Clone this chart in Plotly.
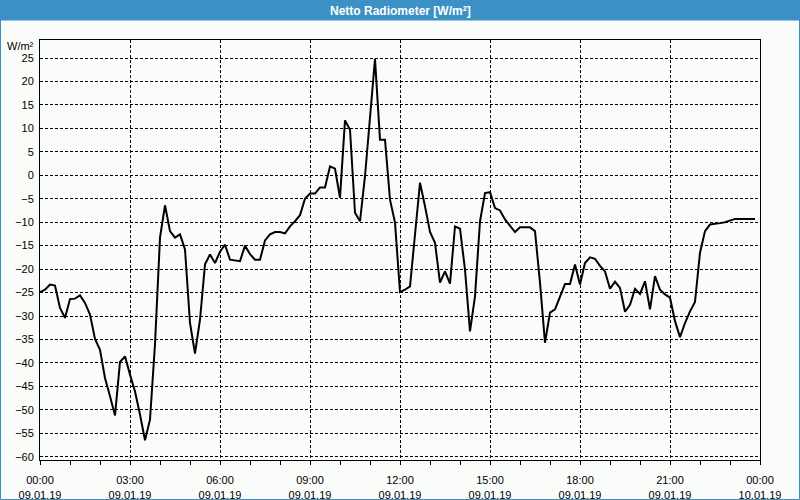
import pandas as pd
import plotly.graph_objects as go

# 10-minute readings, 09.01.19 00:00 .. 23:50
times = pd.date_range("2019-01-09 00:00", periods=144, freq="10min")
values = [
    -24.9, -24.4, -23.3, -23.5, -28.3, -30.4, -26.4, -26.3, -25.6, -27.2,
    -29.7, -34.9, -37.2, -43.2, -47.1, -51.2, -39.8, -38.6, -42.5, -46.1,
    -51.0, -56.5, -52.1, -36.0, -13.3, -6.4, -11.9, -13.3, -12.6, -15.8,
    -31.5, -38.0, -30.8, -19.0, -16.9, -18.7, -16.3, -14.8, -18.0, -18.1,
    -18.3, -15.0, -16.8, -18.0, -18.0, -13.9, -12.6, -12.1, -12.1, -12.4,
    -10.9, -9.8, -8.5, -5.0, -3.9, -3.9, -2.6, -2.6, 1.9, 1.4,
    -4.8, 11.7, 9.7, -8.0, -9.8, -0.2, 12.6, 24.8, 7.6, 7.6,
    -5.2, -10.1, -24.9, -24.4, -23.7, -12.5, -1.6, -6.6, -12.1, -14.4,
    -22.9, -20.5, -23.1, -10.9, -11.4, -20.1, -33.3, -25.8, -9.8, -3.8,
    -3.6, -7.0, -7.5, -9.4, -10.7, -12.1, -11.1, -11.1, -11.1, -11.9,
    -22.9, -35.7, -29.3, -28.6, -25.8, -23.2, -23.2, -19.0, -23.3, -18.7,
    -17.5, -17.8, -19.3, -20.5, -24.2, -22.7, -24.0, -29.1, -27.6, -24.2,
    -25.3, -22.6, -28.6, -21.5, -24.4, -25.4, -26.1, -31.1, -34.5, -31.5,
    -29.0, -27.0, -16.5, -11.9, -10.5, -10.4, -10.2, -10.0, -9.6, -9.3,
    -9.3, -9.3, -9.3, -9.3,
]

x_tickvals = ["2019-01-09 00:00", "2019-01-09 03:00", "2019-01-09 06:00",
              "2019-01-09 09:00", "2019-01-09 12:00", "2019-01-09 15:00",
              "2019-01-09 18:00", "2019-01-09 21:00", "2019-01-10 00:00"]
x_ticktext = ["00:00<br>09.01.19", "03:00<br>09.01.19", "06:00<br>09.01.19",
              "09:00<br>09.01.19", "12:00<br>09.01.19", "15:00<br>09.01.19",
              "18:00<br>09.01.19", "21:00<br>09.01.19", "00:00<br>10.01.19"]
y_tickvals = [-60, -55, -50, -45, -40, -35, -30, -25, -20, -15, -10, -5,
              0, 5, 10, 15, 20, 25]
x_range = ["2019-01-09 00:00", "2019-01-10 00:00"]

title_text = "<b>Netto Radiometer [W/m²]</b>"
unit_text = "W/m²"

BLUE = "#3b90c4"
BG = "#fafcfa"

fig = go.Figure()
fig.add_trace(go.Scatter(x=times, y=values, mode="lines",
                         line=dict(color="black", width=2),
                         showlegend=False, hoverinfo="skip"))
# invisible companion trace on the labelled overlay axis
fig.add_trace(go.Scatter(x=[times[0]], y=[values[0]], xaxis="x2", mode="markers",
                         marker=dict(opacity=0), showlegend=False,
                         hoverinfo="skip"))

L, R, T, B = 40, 40, 40, 40
W, H = 800, 500
pw, ph = W - L - R, H - T - B


def px(xp):
    return (xp - L) / pw


def py(yp):
    return (H - B - yp) / ph


fig.update_layout(
    width=W, height=H,
    margin=dict(l=L, r=R, t=T, b=B, pad=0, autoexpand=False),
    paper_bgcolor=BG, plot_bgcolor=BG,
    font=dict(family="Liberation Sans, Arial, sans-serif", size=11, color="black"),
    # hourly tick marks, box line
    xaxis=dict(
        type="date", range=x_range,
        dtick=3600000, tick0="2019-01-09 00:00",
        ticks="outside", ticklen=4, tickcolor="black", tickwidth=1,
        showticklabels=False, showgrid=False,
        showline=True, linecolor="black", linewidth=1, mirror=True,
        zeroline=False, fixedrange=True,
    ),
    # 3-hourly labels and dashed grid
    xaxis2=dict(
        type="date", range=x_range,
        overlaying="x", side="bottom", anchor="y",
        tickmode="array", tickvals=x_tickvals, ticktext=x_ticktext,
        ticks="outside", ticklen=10, tickcolor="rgba(0,0,0,0)",
        showgrid=True, gridcolor="black", gridwidth=1, griddash="3px,2px",
        showline=False, zeroline=False, fixedrange=True,
    ),
    yaxis=dict(
        range=[-60.7, 28.84],
        tickmode="array", tickvals=y_tickvals,
        ticks="outside", ticklen=3, tickcolor="rgba(0,0,0,0)",
        showgrid=True, gridcolor="black", gridwidth=1, griddash="3px,2px",
        showline=True, linecolor="black", linewidth=1, mirror=True,
        zeroline=False, fixedrange=True,
    ),
    shapes=[
        dict(type="rect", xref="paper", yref="paper",
             x0=px(0), x1=px(800), y0=py(20.5), y1=py(0),
             fillcolor=BLUE, line=dict(width=0), layer="above"),
        dict(type="rect", xref="paper", yref="paper",
             x0=px(0.5), x1=px(799.5), y0=py(499.5), y1=py(0.5),
             fillcolor="rgba(0,0,0,0)", line=dict(color=BLUE, width=1),
             layer="above"),
    ],
    annotations=[
        dict(text=title_text, xref="paper", yref="paper",
             x=px(400), y=py(10.5), xanchor="center", yanchor="middle",
             showarrow=False,
             font=dict(family="Liberation Sans, Arial", size=12, color="white")),
        dict(text=unit_text, xref="paper", yref="paper",
             x=px(36), y=py(46), xanchor="right", yanchor="middle",
             showarrow=False, font=dict(size=11, color="black")),
    ],
)

fig.write_html("out.html")
